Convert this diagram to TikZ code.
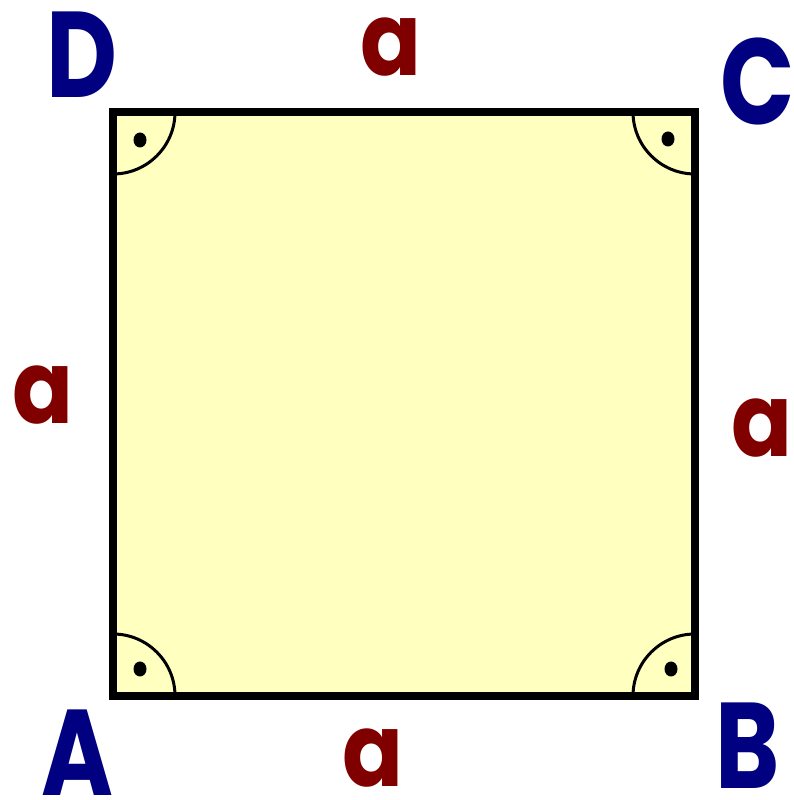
\documentclass[tikz,border=0pt]{standalone}
\usepackage{fontspec}
\setmainfont{Poppins}
\newfontfamily\vertexfont{Poppins}[FakeStretch=0.8]
\newfontfamily\sidefont{Poppins}[FakeStretch=0.88]
\definecolor{navy}{RGB}{0,0,128}
\definecolor{maroon}{RGB}{128,0,0}
\definecolor{paleyellow}{RGB}{255,255,192}
\tikzset{
  vlabel/.style={text=navy, font=\vertexfont\fontsize{122}{124}\selectfont\bfseries, inner sep=0pt},
  slabel/.style={text=maroon, font=\sidefont\fontsize{102}{110}\selectfont\bfseries, inner sep=0pt},
  rightangle/.style={line width=3pt},
  dotmark/.style={fill=black}
}
\begin{document}
\begin{tikzpicture}[x=1pt,y=1pt]
\useasboundingbox (0,0) rectangle (794,800);
\coordinate (A) at (113,104);
\coordinate (B) at (695,104);
\coordinate (C) at (695,688);
\coordinate (D) at (113,688);
\draw[line width=8pt, fill=paleyellow] (A) -- (B) -- (C) -- (D) -- cycle;
% right-angle marks
\draw[rightangle] ([xshift=62pt]A) arc[start angle=0, end angle=90, radius=62pt];
\draw[rightangle] ([yshift=62pt]B) arc[start angle=90, end angle=180, radius=62pt];
\draw[rightangle] ([xshift=-62pt]C) arc[start angle=180, end angle=270, radius=62pt];
\draw[rightangle] ([yshift=-62pt]D) arc[start angle=270, end angle=360, radius=62pt];
\fill[dotmark] ([shift={(27pt,27pt)}]A) ellipse[x radius=6.5pt, y radius=7.5pt];
\fill[dotmark] ([shift={(-24pt,27pt)}]B) ellipse[x radius=6.5pt, y radius=7.5pt];
\fill[dotmark] ([shift={(-27pt,-27pt)}]C) ellipse[x radius=6.5pt, y radius=7.5pt];
\fill[dotmark] ([shift={(27pt,-28pt)}]D) ellipse[x radius=6.5pt, y radius=7.5pt];
% vertex labels
\node[vlabel] (lA) at (77,47) {A};
\node[vlabel] (lB) at (748,54) {B};
\node[vlabel] (lC) at (758,718) {C};
\node[vlabel] (lD) at (82,745) {D};
% side labels
\node[slabel] (sAB) at (373,42) {a};
\node[slabel] (sBC) at (762,372) {a};
\node[slabel] (sCD) at (391,753) {a};
\node[slabel] (sDA) at (43,405) {a};
\end{tikzpicture}
\end{document}
